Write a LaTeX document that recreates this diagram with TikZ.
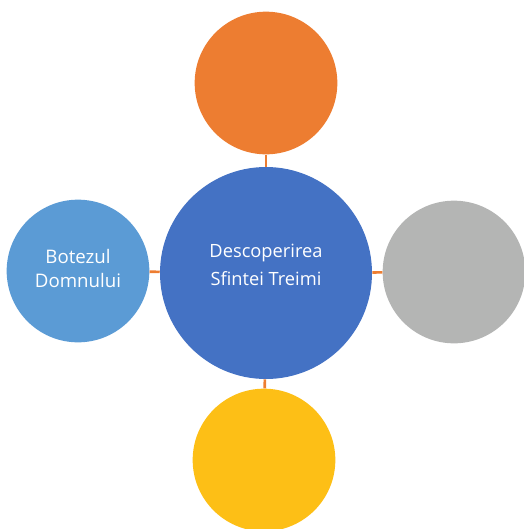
\documentclass[tikz,border=0pt]{standalone}
\usepackage{fontspec}
\setmainfont{Open Sans}
\definecolor{topcol}{HTML}{ED7D31}
\definecolor{midcol}{HTML}{4472C4}
\definecolor{leftcol}{HTML}{5B9BD5}
\definecolor{rightcol}{HTML}{B4B5B4}
\definecolor{botcol}{HTML}{FDBF16}
\tikzstyle{bigdisc}=[circle, minimum size=159pt, inner sep=0pt, align=center, text=white, text depth=13pt, font=\fontsize{13.7pt}{21pt}\selectfont]
\tikzstyle{disc}=[circle, minimum size=107pt, inner sep=0pt, align=center, text=white, text depth=4.5pt, font=\fontsize{14pt}{18pt}\selectfont]
\tikzstyle{link}=[draw=topcol, line width=2pt]

\begin{document}
\begin{tikzpicture}[x=0.75pt, y=-0.75pt]
\useasboundingbox (0,0) rectangle (524,529);
% Circles
	\node[bigdisc, fill=midcol] (trinity) at (266,273) {Descoperirea\\Sfintei Treimi};
	\node[disc, fill=topcol] (north) at (266,83) {};
	\node[disc, fill=leftcol] (baptism) at (78,271) {Botezul\\Domnului};
	\node[disc, fill=rightcol] (east) at (454,272) {};
	\node[disc, fill=botcol] (south) at (264,460) {};
% Links
	\draw[link] (trinity) -- (north);
	\draw[link] (trinity) -- (baptism);
	\draw[link] (trinity) -- (east);
	\draw[link] (trinity) -- (south);
\end{tikzpicture}
\end{document}
